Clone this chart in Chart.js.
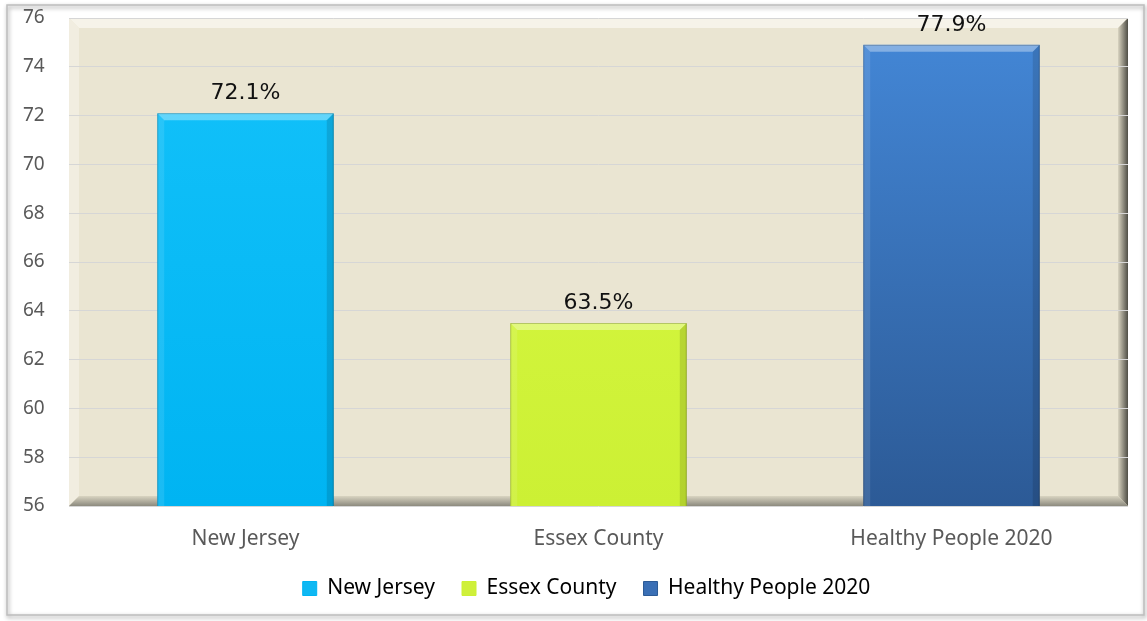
<html>
<head>
  <script src="https://cdn.jsdelivr.net/npm/chart.js@4.4.1/dist/chart.umd.min.js"></script>
  <style>
    body { margin: 0; background: #fff; }
  </style>
</head>
<body>
  <canvas id="chart" width="1147" height="621"></canvas>

  <script>
    // chart data
    var categories = ['New Jersey', 'Essex County', 'Healthy People 2020'];
    var values = [72.1, 63.5, 74.9];
    var valueLabels = ['72.1%', '63.5%', '77.9%'];
    var yMin = 56, yMax = 76, yStep = 2;

    // colours per bar: [top, bottom, legend box]
    var barColors = [
      ['#14C2FA', '#00B4F2', '#0FB8F3'],
      ['#DAFA46', '#CCF034', '#CFF03A'],
      ['#4488D8', '#2C5A96', '#3A6FB5']
    ];

    function barFill(ctx) {
      var chart = ctx.chart;
      var area = chart.chartArea;
      var c = barColors[ctx.dataIndex];
      if (!area) return c[2];
      var g = chart.ctx.createLinearGradient(0, area.top, 0, area.bottom);
      g.addColorStop(0, c[0]);
      g.addColorStop(1, c[1]);
      return g;
    }

    // frame + beige plot background with bevel
    var backdrop = {
      id: 'backdrop',
      afterLayout: function(chart) {
        // legend sits a bit right of centre in the original
        chart.legend.left += 11;
        chart.legend.right += 11;
      },
      beforeDraw: function(chart) {
        var ctx = chart.ctx;
        var a = chart.chartArea;
        ctx.save();
        // outer frame
        ctx.shadowColor = 'rgba(0,0,0,0.45)';
        ctx.shadowBlur = 4;
        ctx.shadowOffsetX = 1;
        ctx.shadowOffsetY = 2;
        ctx.strokeStyle = '#BDBDBD';
        ctx.lineWidth = 1.5;
        ctx.strokeRect(7, 5, 1137, 610);
        ctx.restore();

        ctx.save();
        ctx.fillStyle = '#EAE5D2';
        ctx.fillRect(a.left, a.top, a.right - a.left, a.bottom - a.top);
        var b = 10;
        // top bevel
        ctx.fillStyle = '#F6F3E9';
        ctx.beginPath();
        ctx.moveTo(a.left, a.top); ctx.lineTo(a.right, a.top);
        ctx.lineTo(a.right - b, a.top + b); ctx.lineTo(a.left + b, a.top + b);
        ctx.closePath(); ctx.fill();
        // left bevel
        ctx.fillStyle = '#F1EDE0';
        ctx.beginPath();
        ctx.moveTo(a.left, a.top); ctx.lineTo(a.left + b, a.top + b);
        ctx.lineTo(a.left + b, a.bottom - b); ctx.lineTo(a.left, a.bottom);
        ctx.closePath(); ctx.fill();
        // right bevel
        var gr = ctx.createLinearGradient(a.right - b, 0, a.right, 0);
        gr.addColorStop(0, '#D9D4C1');
        gr.addColorStop(1, '#4F4E46');
        ctx.fillStyle = gr;
        ctx.beginPath();
        ctx.moveTo(a.right, a.top); ctx.lineTo(a.right, a.bottom);
        ctx.lineTo(a.right - b, a.bottom - b); ctx.lineTo(a.right - b, a.top + b);
        ctx.closePath(); ctx.fill();
        // bottom bevel
        var gb = ctx.createLinearGradient(0, a.bottom - b, 0, a.bottom);
        gb.addColorStop(0, '#D9D4C1');
        gb.addColorStop(1, '#8C8A7E');
        ctx.fillStyle = gb;
        ctx.beginPath();
        ctx.moveTo(a.left, a.bottom); ctx.lineTo(a.right, a.bottom);
        ctx.lineTo(a.right - b, a.bottom - b); ctx.lineTo(a.left + b, a.bottom - b);
        ctx.closePath(); ctx.fill();
        ctx.restore();
      }
    };

    // bevel on bars + value labels above
    var barDeco = {
      id: 'barDeco',
      afterDatasetsDraw: function(chart) {
        var ctx = chart.ctx;
        var meta = chart.getDatasetMeta(0);
        ctx.save();
        meta.data.forEach(function(el, i) {
          var l = el.x - el.width / 2, r = el.x + el.width / 2;
          var t = el.y, btm = Math.min(el.base, chart.chartArea.bottom), b = 7;
          ctx.fillStyle = 'rgba(255,255,255,0.35)';
          ctx.beginPath();
          ctx.moveTo(l, t); ctx.lineTo(r, t); ctx.lineTo(r - b, t + b); ctx.lineTo(l + b, t + b);
          ctx.closePath(); ctx.fill();
          ctx.fillStyle = 'rgba(255,255,255,0.10)';
          ctx.beginPath();
          ctx.moveTo(l, t); ctx.lineTo(l + b, t + b); ctx.lineTo(l + b, btm); ctx.lineTo(l, btm);
          ctx.closePath(); ctx.fill();
          ctx.fillStyle = 'rgba(0,0,0,0.12)';
          ctx.beginPath();
          ctx.moveTo(r, t); ctx.lineTo(r, btm); ctx.lineTo(r - b, btm); ctx.lineTo(r - b, t + b);
          ctx.closePath(); ctx.fill();
          ctx.strokeStyle = 'rgba(0,0,0,0.2)';
          ctx.lineWidth = 1;
          ctx.beginPath();
          ctx.moveTo(l + 0.5, btm); ctx.lineTo(l + 0.5, t + 0.5);
          ctx.lineTo(r - 0.5, t + 0.5); ctx.lineTo(r - 0.5, btm);
          ctx.stroke();

          ctx.fillStyle = '#111';
          ctx.font = '22px "DejaVu Sans"';
          ctx.textAlign = 'center';
          ctx.textBaseline = 'alphabetic';
          ctx.fillText(valueLabels[i], el.x, t - 14);
        });
        ctx.restore();
      }
    };

    new Chart(document.getElementById('chart'), {
      type: 'bar',
      data: {
        labels: categories,
        datasets: [{
          data: values,
          backgroundColor: barFill,
          borderWidth: 0,
          barPercentage: 0.5,
          categoryPercentage: 1.0
        }]
      },
      plugins: [backdrop, barDeco],
      options: {
        responsive: false,
        animation: false,
        layout: { padding: { left: 23, right: 19, top: 18, bottom: 12 } },
        scales: {
          x: {
            grid: { display: false },
            border: { display: false },
            ticks: { color: '#595959', font: { family: 'Noto Sans', size: 21 }, padding: 12 },
            afterFit: function(s) { s.height = 45; }
          },
          y: {
            min: yMin,
            max: yMax,
            grid: { color: '#D6D6D6', drawTicks: false, tickLength: 0 },
            border: { display: false },
            ticks: { stepSize: yStep, color: '#595959', font: { family: 'Noto Sans', size: 19 }, padding: 0, crossAlign: 'far' },
            afterFit: function(s) { s.width = 46; }
          }
        },
        plugins: {
          tooltip: { enabled: false },
          legend: {
            position: 'bottom',
            labels: {
              boxWidth: 14,
              boxHeight: 14,
              padding: 27,
              color: '#595959',
              font: { family: 'Noto Sans', size: 21 },
              generateLabels: function(chart) {
                return categories.map(function(c, i) {
                  return {
                    text: c,
                    fillStyle: barColors[i][2],
                    strokeStyle: barColors[i][1],
                    lineWidth: 1,
                    hidden: false,
                    index: i
                  };
                });
              }
            }
          }
        }
      }
    });
  </script>
</body>
</html>
